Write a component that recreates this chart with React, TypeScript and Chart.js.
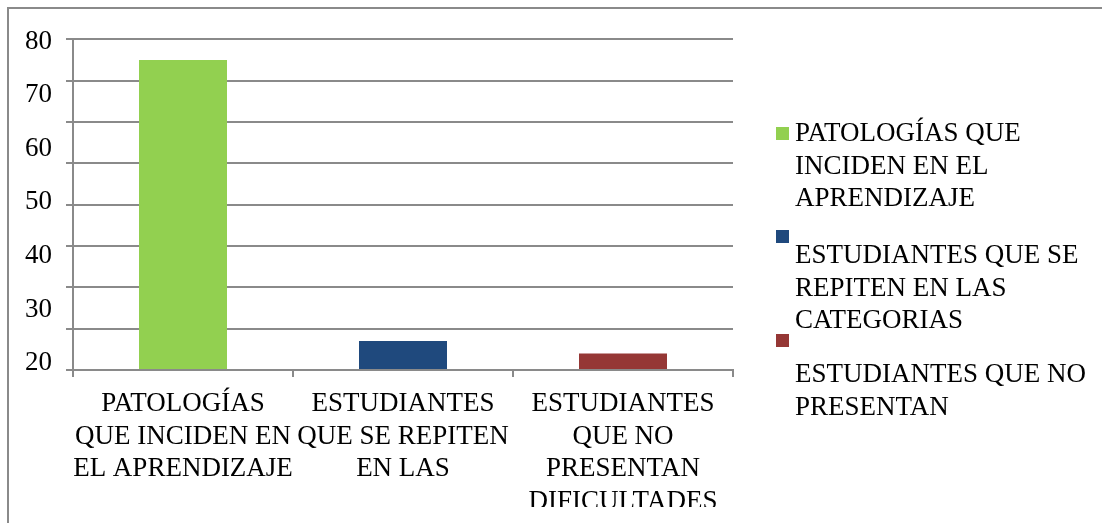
import { useEffect, useRef } from "react";
import { Chart, registerables } from "chart.js";

Chart.register(...registerables);

// ---- data ----
const categories: string[][] = [
  ["PATOLOGÍAS", "QUE INCIDEN EN", "EL APRENDIZAJE"],
  ["ESTUDIANTES", "QUE SE REPITEN", "EN LAS"],
  ["ESTUDIANTES", "QUE NO", "PRESENTAN", "DIFICULTADES"],
];
const seriesNames = [
  "PATOLOGÍAS QUE INCIDEN EN EL APRENDIZAJE",
  "ESTUDIANTES QUE SE REPITEN EN LAS CATEGORIAS",
  "ESTUDIANTES QUE NO PRESENTAN",
];
const legendLines: string[][] = [
  ["PATOLOGÍAS QUE", "INCIDEN EN EL", "APRENDIZAJE"],
  ["ESTUDIANTES QUE SE", "REPITEN EN LAS", "CATEGORIAS"],
  ["ESTUDIANTES QUE NO", "PRESENTAN"],
];
const values = [75, 7, 4];
const seriesColors = ["#92D050", "#1F497D", "#953735"];
const gridMin = 0;
const gridMax = 80;
const gridStep = 10;
const yTickLabels = [20, 30, 40, 50, 60, 70, 80];

const FONT = "'Liberation Serif'";
const FONT_SIZE = 27;
const GRID = "#8A8A8A";

const sideLegend = {
  id: "sideLegend",
  afterDraw(chart: any) {
    const ctx = chart.ctx;
    const squareTop = [118, 221, 325];
    const textTop = [125, 247, 366];
    const lineGap = 32.5;
    ctx.save();
    ctx.font = `${FONT_SIZE}px ${FONT}`;
    ctx.textBaseline = "middle";
    ctx.textAlign = "left";
    chart.data.datasets.forEach((ds: any, i: number) => {
      ctx.fillStyle = ds.backgroundColor;
      ctx.fillRect(767, squareTop[i], 13, 13);
      ctx.fillStyle = "#000";
      legendLines[i].forEach((line, k) => {
        ctx.fillText(line, 786, textTop[i] + k * lineGap);
      });
    });
    ctx.restore();
  },
};

export default function App() {
  const ref = useRef<HTMLCanvasElement | null>(null);

  useEffect(() => {
    if (!ref.current) return;
    const datasets = seriesNames.map((name, i) => ({
      label: name,
      data: values.map((v, j) => (j === i ? v : null)),
      backgroundColor: seriesColors[i],
      grouped: false,
      barPercentage: 0.4,
      categoryPercentage: 1,
    }));
    const chart = new Chart(ref.current, {
      type: "bar",
      data: { labels: categories, datasets },
      options: {
        animation: false,
        responsive: false,
        layout: { padding: { top: 28, right: 369, left: 0, bottom: 0 } },
        plugins: {
          legend: { display: false },
          tooltip: { enabled: false },
        },
        scales: {
          x: {
            type: "category",
            grid: {
              drawOnChartArea: false,
              drawTicks: true,
              tickLength: 7,
              color: GRID,
              lineWidth: 2,
              offset: true,
            },
            border: { color: GRID, width: 2 },
            ticks: {
              color: "#000",
              font: { family: FONT, size: FONT_SIZE, lineHeight: 1.22 },
              padding: 10,
              maxRotation: 0,
              minRotation: 0,
              autoSkip: false,
            },
            afterFit: (s: any) => {
              s.height = 137;
            },
          },
          y: {
            type: "linear",
            position: "left",
            min: gridMin,
            max: gridMax,
            ticks: { stepSize: gridStep, display: false },
            grid: { color: GRID, lineWidth: 2, tickLength: 7, drawTicks: true },
            border: { color: GRID, width: 2 },
            afterFit: (s: any) => {
              s.width = 7;
            },
          },
          yl: {
            type: "linear",
            position: "left",
            weight: 1,
            min: 18.69,
            max: 80.46,
            grid: { display: false, drawTicks: false },
            border: { display: false },
            ticks: {
              color: "#000",
              font: { family: FONT, size: FONT_SIZE },
              padding: 14,
            },
            afterBuildTicks: (s: any) => {
              s.ticks = yTickLabels.map((v) => ({ value: v }));
            },
            afterFit: (s: any) => {
              s.width = 57;
            },
          },
        },
      } as any,
      plugins: [sideLegend],
    });
    return () => chart.destroy();
  }, []);

  return (
    <div
      style={{
        position: "fixed",
        left: 7,
        top: 7,
        width: 1095,
        height: 516,
        borderTop: `2px solid ${GRID}`,
        borderLeft: `2px solid ${GRID}`,
        boxSizing: "border-box",
        background: "#fff",
        overflow: "hidden",
      }}
    >
      <canvas
        ref={ref}
        width={1093}
        height={498}
        style={{ position: "absolute", left: 0, top: 0, width: 1093, height: 498 }}
      />
    </div>
  );
}
